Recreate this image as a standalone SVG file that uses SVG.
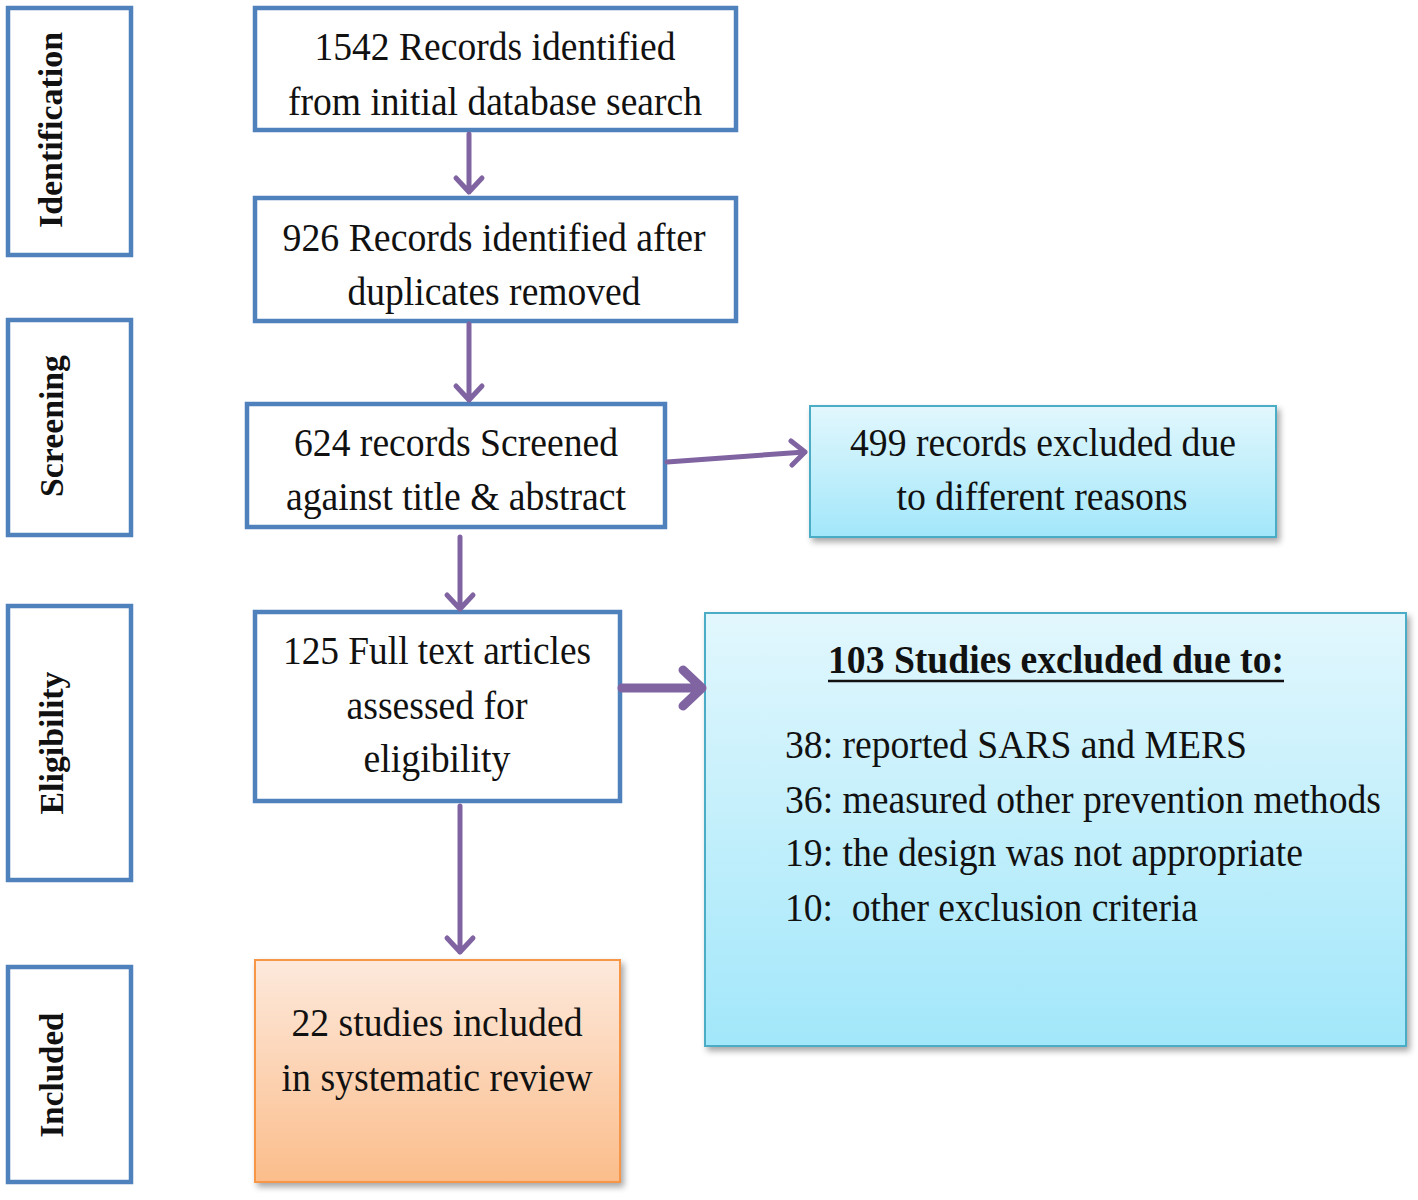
<svg xmlns="http://www.w3.org/2000/svg" width="1418" height="1200" viewBox="0 0 1418 1200">
<defs>
<linearGradient id="cyan" x1="0" y1="0" x2="0" y2="1"><stop offset="0" stop-color="#e2f7fd"/><stop offset="1" stop-color="#a2e7fa"/></linearGradient>
<linearGradient id="orange" x1="0" y1="0" x2="0" y2="1"><stop offset="0" stop-color="#fde9dc"/><stop offset="1" stop-color="#fbbd8b"/></linearGradient>
<filter id="sh" x="-5%" y="-5%" width="115%" height="115%"><feDropShadow dx="3" dy="4" stdDeviation="3" flood-color="#000" flood-opacity="0.35"/></filter>
<style>
.blue{fill:#fff;stroke:#4f81bd;stroke-width:4.5}
.cy{fill:url(#cyan);stroke:#4bacc6;stroke-width:2;filter:url(#sh)}
.or{fill:url(#orange);stroke:#f79646;stroke-width:2;filter:url(#sh)}
.t{font-family:"Liberation Serif","Times New Roman",serif;font-size:41px;fill:#111;text-anchor:middle}
.tl{font-family:"Liberation Serif","Times New Roman",serif;font-size:41px;fill:#111}
.side{font-family:"Liberation Serif","Times New Roman",serif;font-size:34px;font-weight:bold;fill:#111;text-anchor:middle}
.ar{fill:none;stroke:#8064a2;stroke-width:5;stroke-linecap:round;stroke-linejoin:round}
.ar.thick{stroke-width:9}
</style>
</defs>
<g id="stage-identification"><rect class="blue" x="8" y="8" width="123" height="247"/><text class="side" transform="translate(62,130) rotate(-90)" textLength="196" lengthAdjust="spacingAndGlyphs">Identification</text></g>
<g id="stage-screening"><rect class="blue" x="8" y="320" width="123" height="215"/><text class="side" transform="translate(63,426) rotate(-90)" textLength="142" lengthAdjust="spacingAndGlyphs">Screening</text></g>
<g id="stage-eligibility"><rect class="blue" x="8" y="606" width="123" height="274"/><text class="side" transform="translate(63,743) rotate(-90)" textLength="143" lengthAdjust="spacingAndGlyphs">Eligibility</text></g>
<g id="stage-included"><rect class="blue" x="8" y="967" width="123" height="215"/><text class="side" transform="translate(63,1075) rotate(-90)" textLength="125" lengthAdjust="spacingAndGlyphs">Included</text></g>

<g id="n1"><rect class="blue" x="255" y="8" width="481" height="122"/>
<text class="t" x="495" y="60" textLength="361" lengthAdjust="spacingAndGlyphs">1542 Records identified</text>
<text class="t" x="495" y="115" textLength="414" lengthAdjust="spacingAndGlyphs">from initial database search</text></g>
<g id="n2"><rect class="blue" x="255" y="198" width="481" height="123"/>
<text class="t" x="494" y="251" textLength="423" lengthAdjust="spacingAndGlyphs">926 Records identified after</text>
<text class="t" x="494" y="305" textLength="293" lengthAdjust="spacingAndGlyphs">duplicates removed</text></g>
<g id="n3"><rect class="blue" x="247" y="404" width="418" height="123"/>
<text class="t" x="456" y="456" textLength="324" lengthAdjust="spacingAndGlyphs">624 records Screened</text>
<text class="t" x="456" y="510" textLength="340" lengthAdjust="spacingAndGlyphs">against title &amp; abstract</text></g>
<g id="n4"><rect class="cy" x="810" y="406" width="466" height="131"/>
<text class="t" x="1043" y="456" textLength="386" lengthAdjust="spacingAndGlyphs">499 records excluded due</text>
<text class="t" x="1042" y="510" textLength="291" lengthAdjust="spacingAndGlyphs">to different reasons</text></g>
<g id="n5"><rect class="blue" x="255" y="612" width="365" height="189"/>
<text class="t" x="437" y="664" textLength="308" lengthAdjust="spacingAndGlyphs">125 Full text articles</text>
<text class="t" x="437" y="719" textLength="181" lengthAdjust="spacingAndGlyphs">assessed for</text>
<text class="t" x="437" y="772" textLength="147" lengthAdjust="spacingAndGlyphs">eligibility</text></g>
<g id="n6"><rect class="cy" x="705" y="613" width="701" height="433"/>
<text class="t" x="1056" y="673" font-weight="bold" textLength="456" lengthAdjust="spacingAndGlyphs">103 Studies excluded due to:</text>
<line x1="828" y1="681" x2="1284" y2="681" stroke="#111" stroke-width="2.5"/>
<text class="tl" x="785" y="758" textLength="462" lengthAdjust="spacingAndGlyphs">38: reported SARS and MERS</text>
<text class="tl" x="785" y="813" textLength="596" lengthAdjust="spacingAndGlyphs">36: measured other prevention methods</text>
<text class="tl" x="785" y="866" textLength="518" lengthAdjust="spacingAndGlyphs">19: the design was not appropriate</text>
<text class="tl" x="785" y="921" textLength="413" lengthAdjust="spacingAndGlyphs" xml:space="preserve">10:  other exclusion criteria</text></g>
<g id="n7"><rect class="or" x="255" y="960" width="365" height="222"/>
<text class="t" x="437" y="1036" textLength="291" lengthAdjust="spacingAndGlyphs">22 studies included</text>
<text class="t" x="437" y="1091" textLength="311" lengthAdjust="spacingAndGlyphs">in systematic review</text></g>

<g id="connectors">
<path class="ar" d="M469,134 V192 M456,178 L469,192 L482,178"/>
<path class="ar" d="M469,324 V400 M456,386 L469,400 L482,386"/>
<path class="ar" d="M667,462 L805,452 M791,441 L805,452 L792,465"/>
<path class="ar" d="M460,537 V609 M447,595 L460,609 L473,595"/>
<path class="ar thick" d="M622,688 L702,688 M683,670 L702,688 L683,706"/>
<path class="ar" d="M460,806 V952 M447,938 L460,952 L473,938"/>
</g>
</svg>
